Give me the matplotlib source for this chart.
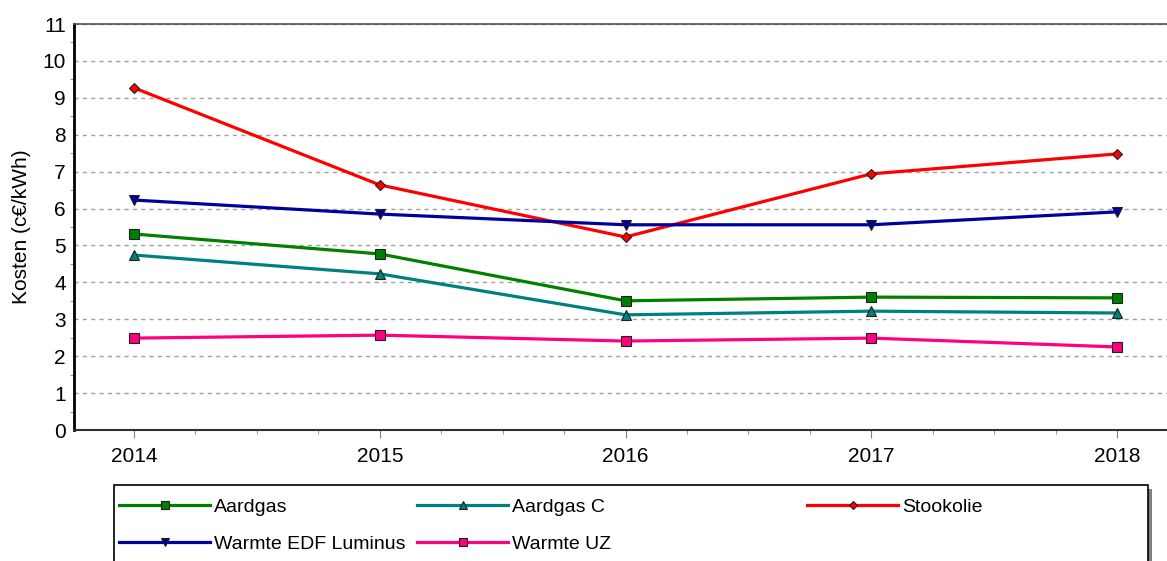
import matplotlib
matplotlib.use("Agg")
import matplotlib.pyplot as plt
from matplotlib.patches import Rectangle
from matplotlib.ticker import MultipleLocator

years = [2014, 2015, 2016, 2017, 2018]
series_names = ["Aardgas", "Aardgas C", "Stookolie", "Warmte EDF Luminus", "Warmte UZ"]
aardgas = [5.31, 4.77, 3.50, 3.60, 3.58]
aardgas_c = [4.74, 4.23, 3.12, 3.22, 3.17]
stookolie = [9.27, 6.64, 5.23, 6.94, 7.48]
warmte_edf = [6.23, 5.85, 5.56, 5.56, 5.91]
warmte_uz = [2.49, 2.57, 2.41, 2.49, 2.25]
y_ticks = list(range(0, 12))
y_label = "Kosten (c€/kWh)"

values = [aardgas, aardgas_c, stookolie, warmte_edf, warmte_uz]
colors = ["#008000", "#008080", "#ff0000", "#0000a0", "#ff0080"]
markers = ["s", "^", "D", "v", "s"]
msizes = [7, 7, 5.5, 7, 7]

plt.rcParams['font.family'] = ['Liberation Sans', 'DejaVu Sans']

W, H = 1167, 561
fig = plt.figure(figsize=(W / 100, H / 100), dpi=100)
ax = fig.add_axes([74 / W, 1 - 430 / H, (W - 74) / W, (430 - 24) / H])

handles = []
for name, vals, c, m, ms in zip(series_names, values, colors, markers, msizes):
    h, = ax.plot(years, vals, color=c, lw=2.3, marker=m, markersize=ms,
                 markerfacecolor=c, markeredgecolor="#202020", markeredgewidth=0.8,
                 label=name, zorder=3)
    handles.append(h)

ax.set_xlim(2014 - 60 / 245.7, 2018 + 50 / 245.7)
ax.set_ylim(0, 11)
ax.set_yticks(y_ticks)
ax.set_xticks(years)
ax.set_xticklabels([str(y) for y in years])
ax.xaxis.set_minor_locator(MultipleLocator(0.25))
ax.yaxis.set_minor_locator(MultipleLocator(0.5))
ax.yaxis.grid(True, which="major", linestyle=(0, (3, 3)), color="#a0a0a0", lw=1.0)
ax.set_axisbelow(True)
ax.tick_params(axis="y", which="major", length=0, labelsize=15, pad=6)
ax.tick_params(axis="y", which="minor", length=3, color="#808080", direction="out")
ax.tick_params(axis="x", which="major", length=6, color="#808080", labelsize=15, pad=6)
ax.tick_params(axis="x", which="minor", length=3, color="#808080")
ax.spines["left"].set_linewidth(2)
ax.spines["left"].set_color("black")
ax.spines["bottom"].set_linewidth(1.5)
ax.spines["bottom"].set_color("#303030")
ax.spines["top"].set_linewidth(1.2)
ax.spines["top"].set_color("#505050")
ax.spines["right"].set_visible(False)
ax.set_ylabel(y_label, fontsize=15, labelpad=8)

# Legend frame with shadow
shadow = Rectangle((118 / W, -0.05), (1148 - 114) / W, (1 - 489 / H) + 0.05,
                   transform=fig.transFigure, facecolor="#808080", edgecolor="none", zorder=1)
frame = Rectangle((114 / W, -0.05), (1148 - 114) / W, (1 - 485 / H) + 0.05,
                  transform=fig.transFigure, facecolor="white", edgecolor="black", lw=1.2, zorder=2)
fig.patches.extend([shadow, frame])

col_x = [119, 417, 807]
col_items = [[0, 3], [1, 4], [2]]
for x, items in zip(col_x, col_items):
    leg = fig.legend([handles[i] for i in items], [series_names[i] for i in items],
                     loc="upper left", bbox_to_anchor=(x / W, 1 - 498 / H),
                     frameon=False, fontsize=14, handlelength=4.7, handletextpad=0.2,
                     borderpad=0, borderaxespad=0, labelspacing=1.0, markerscale=0.75)
    leg.set_zorder(3)

fig.savefig("out.png", dpi=100)
